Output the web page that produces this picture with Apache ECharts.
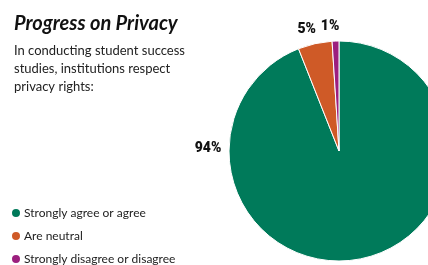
<!DOCTYPE html>
<html>
<head>
<meta charset="utf-8">
<script src="https://cdn.jsdelivr.net/npm/echarts@6.0.0/dist/echarts.min.js"></script>
<style>
  html, body { margin: 0; padding: 0; background: #fff; }
  #main { width: 428px; height: 265px; }
</style>
</head>
<body>
<div id="main"></div>
<script>
// chart data
var categories = ['Strongly agree or agree', 'Are neutral', 'Strongly disagree or disagree'];
var values = [94, 5, 1];
var colors = ['#007a5a', '#cf5a27', '#9c1f7e'];

var myChart = echarts.init(document.getElementById('main'));

// one legend per row so the list never wraps into columns
var legends = categories.map(function (name, i) {
  return {
    orient: 'vertical',
    left: 10,
    top: 207 + i * 23,
    padding: 0,
    itemWidth: 10,
    itemHeight: 10,
    icon: 'circle',
    textStyle: { fontFamily: 'Lato', fontSize: 12, color: '#222', padding: [0, 0, 0, -2] },
    data: [name]
  };
});

var option = {
  backgroundColor: '#fff',
  title: [
    {
      text: 'Progress on Privacy',
      left: 9,
      top: 9,
      textStyle: { fontFamily: 'Lato', fontStyle: 'italic', fontWeight: 'bold', fontSize: 20, color: '#111' }
    },
    {
      text: 'In conducting student success\nstudies, institutions respect\nprivacy rights:',
      left: 9,
      top: 37,
      textStyle: { fontFamily: 'Lato', fontWeight: 'normal', fontSize: 13, lineHeight: 18, color: '#222' }
    }
  ],
  legend: legends,
  series: [
    {
      type: 'pie',
      center: [339, 151],
      radius: 110,
      startAngle: 90,
      clockwise: true,
      silent: true,
      avoidLabelOverlap: false,
      itemStyle: { borderColor: '#fff', borderWidth: 1 },
      label: {
        show: true,
        formatter: '{c}%',
        fontFamily: 'Roboto',
        fontWeight: 900,
        fontSize: 14,
        color: '#111'
      },
      labelLine: { show: false, length: 15, length2: 0 },
      labelLayout: function (params) {
        if (params.dataIndex === 0) {
          return { x: 208, y: 148, align: 'center', verticalAlign: 'middle' };
        }
        return { align: 'center', verticalAlign: 'middle' };
      },
      data: categories.map(function (name, i) {
        return { name: name, value: values[i], itemStyle: { color: colors[i] } };
      })
    }
  ]
};

myChart.setOption(option);
</script>
</body>
</html>
